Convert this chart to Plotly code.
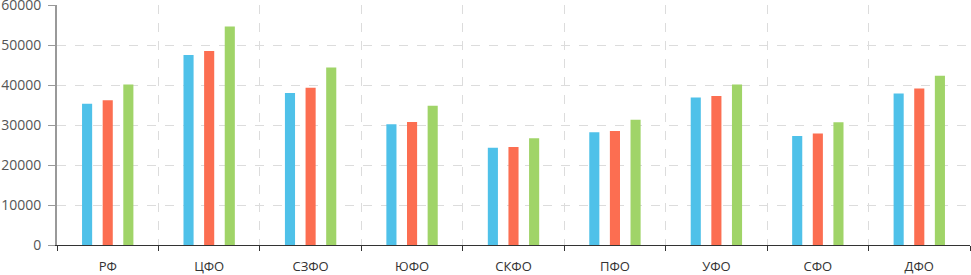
import plotly.graph_objects as go

categories = ["РФ", "ЦФО", "СЗФО", "ЮФО", "СКФО", "ПФО", "УФО", "СФО", "ДФО"]
series_a = [35300, 47500, 38000, 30200, 24300, 28200, 36900, 27250, 37900]
series_b = [36200, 48500, 39300, 30750, 24500, 28500, 37250, 27900, 39100]
series_c = [40100, 54600, 44400, 34800, 26700, 31300, 40100, 30700, 42300]
series_names = ["Серия 1", "Серия 2", "Серия 3"]
colors = ["#4FC1E9", "#FC6E51", "#A0D468"]

fig = go.Figure()
for name, vals, col in zip(series_names, [series_a, series_b, series_c], colors):
    fig.add_trace(go.Bar(x=categories, y=vals, name=name, marker_color=col,
                         marker_line_width=0))

fig.update_layout(
    width=971, height=275,
    margin=dict(l=57, r=1, t=5, b=30, autoexpand=False),
    paper_bgcolor="rgba(0,0,0,0)", plot_bgcolor="rgba(0,0,0,0)",
    barmode="group", bargap=0.39, bargroupgap=0.51,
    showlegend=False,
    font=dict(family="Open Sans", size=13, color="#555"),
)
fig.update_xaxes(
    tickson="boundaries", showgrid=True, gridcolor="#dcdcdc", griddash="dash",
    gridwidth=1, showline=True, linecolor="#333", linewidth=1,
    ticks="outside", ticklen=5, tickcolor="#333", automargin=False,
    ticklabelstandoff=9,
    tickfont=dict(size=13, color="#333"),
)
fig.update_yaxes(
    range=[0, 60000], dtick=10000, tickformat="d", showgrid=True,
    gridcolor="#dcdcdc", griddash="dash", gridwidth=1, showline=True,
    linecolor="#999", linewidth=2, ticks="outside", ticklen=7,
    tickcolor="#999", zeroline=False, ticklabeloverflow="allow",
    ticklabelstandoff=4, automargin=False,
    tickfont=dict(size=14, color="#555"),
)
fig.write_html(
    "out.html",
    config={"displayModeBar": False},
    post_script="document.body.style.margin='0';document.body.style.overflow='hidden';",
)
